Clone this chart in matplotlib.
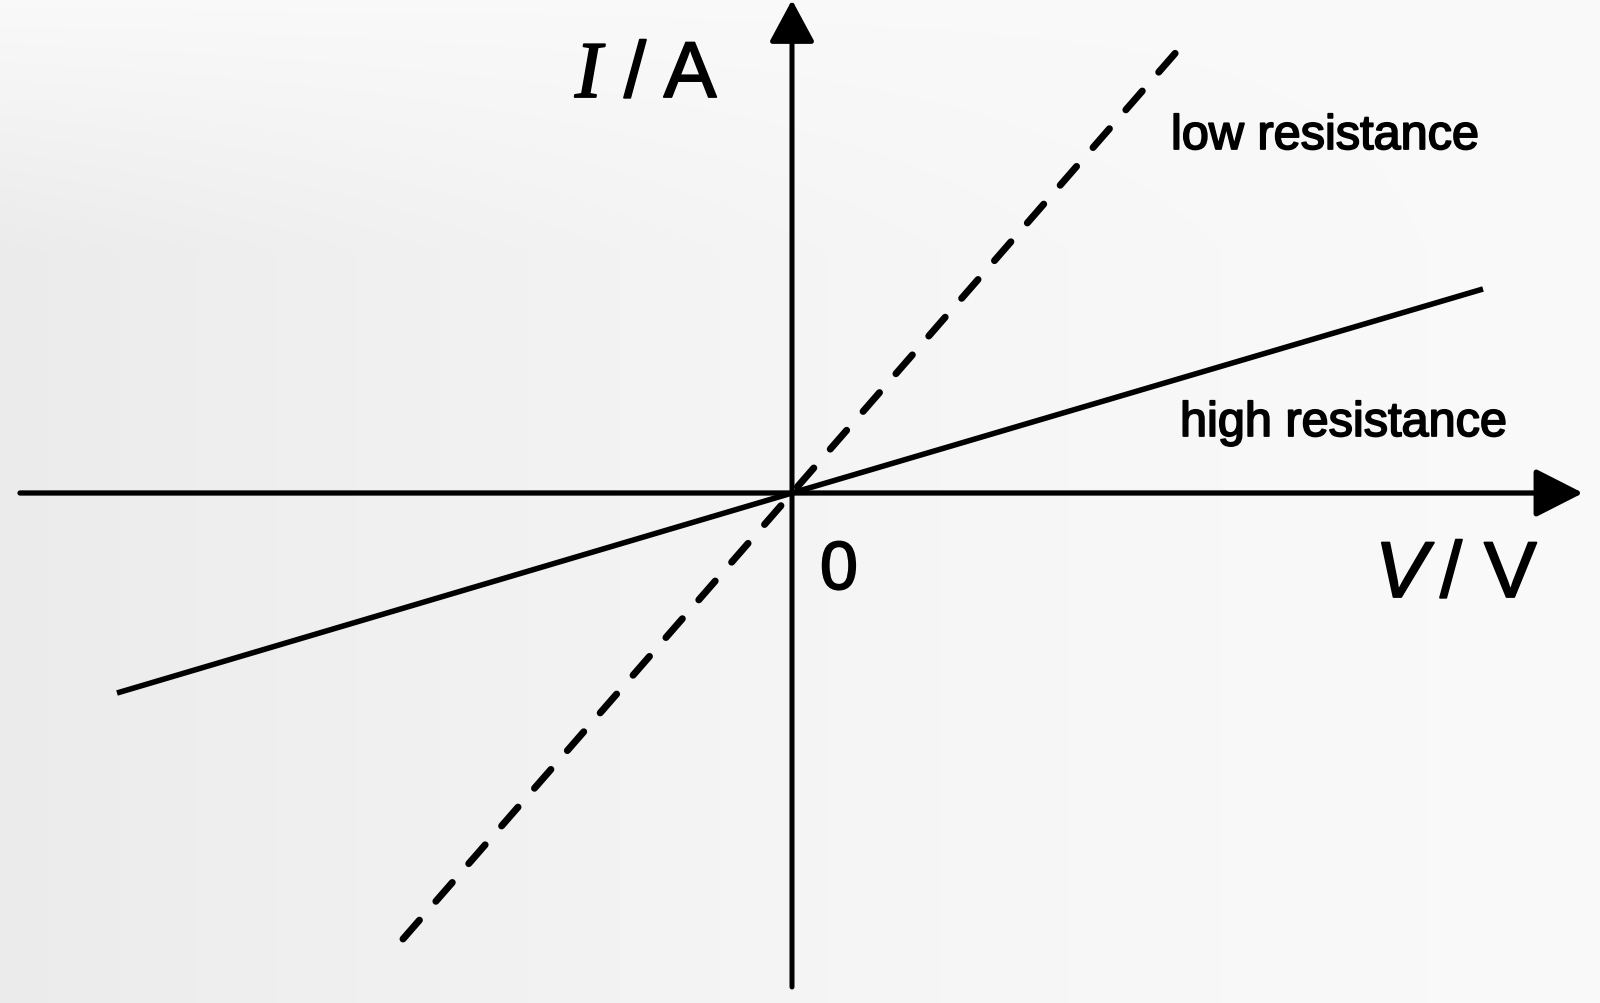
import numpy as np
import matplotlib
matplotlib.use("Agg")
import matplotlib.pyplot as plt
import matplotlib.patheffects as pe

# ---- data (V, I in arbitrary units; lines pass through origin) ----
low_res_V = [-3.89, 0.0, 3.93]
low_res_I = [-4.46, 0.0, 4.51]
high_res_V = [-6.75, 0.0, 6.91]
high_res_I = [-2.00, 0.0, 2.04]

labels = {"low": "low resistance", "high": "high resistance"}

fig = plt.figure(figsize=(16, 10.04), dpi=100)
ax = fig.add_axes([0, 0, 1, 1])
xmin, xmax = -7.92, 8.08
ymin, ymax = -5.10, 4.94
ax.set_xlim(xmin, xmax)
ax.set_ylim(ymin, ymax)
ax.axis("off")

# paper-like background: slightly grey on the left, whiter on the right
nx, ny = 400, 250
gx = np.linspace(0, 1, nx)[None, :]
gy = np.linspace(0, 1, ny)[:, None]  # 0 top, 1 bottom
shade = 0.055 * (1 - gx) ** 1.6 * np.clip(gy * 4, 0, 1)
grey = 0.978 - shade
img = np.dstack([grey, grey, grey])
ax.imshow(img, extent=[xmin, xmax, ymin, ymax], aspect="auto", zorder=0,
          interpolation="bilinear")

# axes with arrow heads
ax.annotate("", xy=(7.91, 0), xytext=(-7.72, 0),
            arrowprops=dict(arrowstyle="-|>,head_length=0.59,head_width=0.30",
                            mutation_scale=50, lw=3.8, color="black",
                            shrinkA=0, shrinkB=0), zorder=3)
ax.annotate("", xy=(0, 4.93), xytext=(0, -4.94),
            arrowprops=dict(arrowstyle="-|>,head_length=0.52,head_width=0.28",
                            mutation_scale=50, lw=3.6, color="black",
                            shrinkA=0, shrinkB=0), zorder=3)

# data lines
ax.plot(low_res_V, low_res_I, color="black", lw=5.0, dashes=(3.6, 3.6),
        dash_capstyle="round", zorder=4)
ax.plot(high_res_V, high_res_I, color="black", lw=4.0, solid_capstyle="butt",
        zorder=4)

sans = "Liberation Sans"
serif = "Liberation Serif"
bold = [pe.withStroke(linewidth=1.3, foreground="black")]

# axis labels
ax.text(-2.17, 3.96, "I", fontsize=58, family=serif, style="italic",
        ha="left", va="baseline", zorder=5, path_effects=bold)
ax.text(-1.68, 3.96, "/ A", fontsize=57, family=sans,
        ha="left", va="baseline", zorder=5, path_effects=bold)
ax.text(5.83, -1.04, "V", fontsize=57, family=sans, style="italic",
        ha="left", va="baseline", zorder=5, path_effects=bold)
ax.text(6.48, -1.04, "/ V", fontsize=57, family=sans,
        ha="left", va="baseline", zorder=5, path_effects=bold)
ax.text(0.28, -0.96, "0", fontsize=49, family=sans,
        ha="left", va="baseline", zorder=5, path_effects=bold)

# line labels
ax.text(3.79, 3.44, labels["low"], fontsize=35, family=sans,
        ha="left", va="baseline", zorder=5, path_effects=bold)
ax.text(3.88, 0.57, labels["high"], fontsize=35, family=sans,
        ha="left", va="baseline", zorder=5, path_effects=bold)

fig.savefig("out.png", dpi=100)
